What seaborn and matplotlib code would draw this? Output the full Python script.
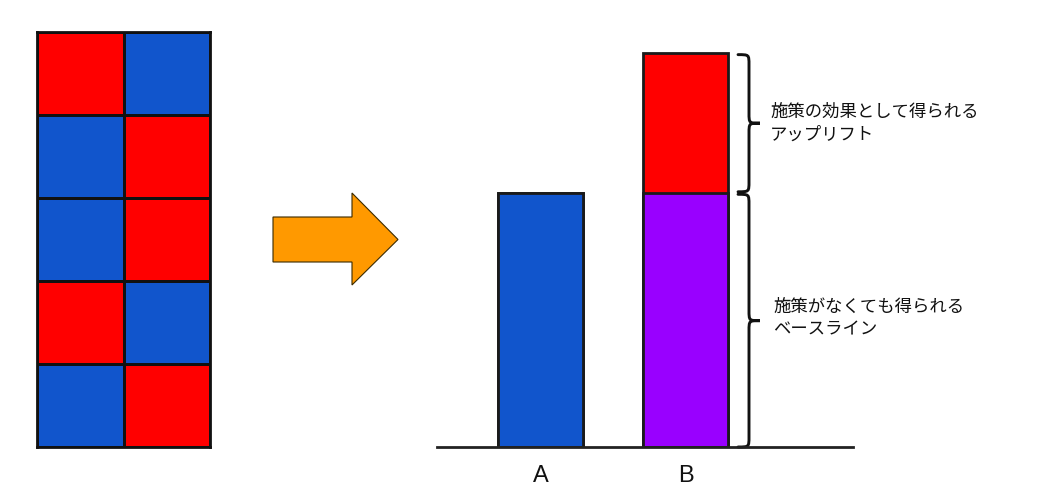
import numpy as np
import pandas as pd
import matplotlib
matplotlib.use("Agg")
import matplotlib.pyplot as plt
import matplotlib.transforms as mtransforms
from matplotlib.colors import ListedColormap
from matplotlib.patches import Polygon, PathPatch
from matplotlib.path import Path
import seaborn as sns

# left grid: 1 = red cell, 0 = blue cell (5 rows x 2 columns)
grid_cells = [[1, 0],
              [0, 1],
              [0, 1],
              [1, 0],
              [0, 1]]

# right bar chart
groups = ["A", "B"]
baseline = [1.0, 1.0]     # what you get without the measure
uplift = [0.0, 0.55]      # extra from the measure (only B)
brace_texts = ["施策の効果として得られる\nアップリフト",
               "施策がなくても得られる\nベースライン"]

BLUE = "#1155cc"
RED = "#ff0000"
PURPLE = "#9900ff"
ORANGE = "#ff9900"

sns.set_theme(style="white")
plt.rcParams["font.family"] = ["Liberation Sans", "Noto Sans CJK JP", "DejaVu Sans"]

W, H = 1037, 500
fig = plt.figure(figsize=(W / 100, H / 100), dpi=100)


def px_box(x0, y0, x1, y1):
    # pixel box (top-left origin) -> figure fraction rect
    return [x0 / W, 1 - y1 / H, (x1 - x0) / W, (y1 - y0) / H]


# --- grid of cells ---
ax_grid = fig.add_axes(px_box(37, 32, 210, 447))
sns.heatmap(np.array(grid_cells), ax=ax_grid, cmap=ListedColormap([BLUE, RED]),
            vmin=0, vmax=1, cbar=False, linewidths=2, linecolor="#111111",
            xticklabels=False, yticklabels=False)
for s in ax_grid.spines.values():
    s.set_visible(True)
    s.set_linewidth(2)
    s.set_color("#111111")

# --- orange arrow ---
arrow_px = [(273, 217), (352, 217), (352, 193), (398, 239.5),
            (352, 285), (352, 262), (273, 262)]
fig.patches.append(Polygon([(x / W, 1 - y / H) for x, y in arrow_px], closed=True,
                           transform=fig.transFigure, facecolor=ORANGE,
                           edgecolor="#3a2a00", linewidth=0.8))

# --- bar chart ---
ax = fig.add_axes(px_box(437, 30, 853, 447))
totals = [b + u for b, u in zip(baseline, uplift)]
df_tot = pd.DataFrame({"group": groups, "value": totals})
df_base = pd.DataFrame({"group": groups, "value": baseline})

sns.barplot(data=df_tot, x="group", y="value", hue="group", order=groups,
            palette=[BLUE, RED], width=0.586, edgecolor="#1a1a1a", saturation=1,
            linewidth=2, legend=False, ax=ax)
sns.barplot(data=df_base, x="group", y="value", hue="group", order=groups,
            palette=[BLUE, PURPLE], width=0.586, edgecolor="#1a1a1a", saturation=1,
            linewidth=2, legend=False, ax=ax)

ax.set_xlim(-0.714, 2.155)
ax.set_ylim(0, 1.642)
ax.set_xlabel("")
ax.set_ylabel("")
ax.set_yticks([])
sns.despine(ax=ax, left=True)
ax.spines["bottom"].set_linewidth(2)
ax.spines["bottom"].set_color("#222222")
ax.tick_params(axis="x", length=0, pad=13, labelsize=17, colors="#111111")


def brace(ax, y0, y1, xe=0.7236, xl=0.75, xt=0.7764, r=0.04):
    ym = (y0 + y1) / 2
    verts = [(xe, y1),
             (xl, y1), (xl, y1), (xl, y1 - r),
             (xl, ym + r),
             (xl, ym), (xl, ym), (xt, ym),
             (xl, ym), (xl, ym), (xl, ym - r),
             (xl, y0 + r),
             (xl, y0), (xl, y0), (xe, y0)]
    codes = ([Path.MOVETO] + [Path.CURVE4] * 3 + [Path.LINETO] + [Path.CURVE4] * 6
             + [Path.LINETO] + [Path.CURVE4] * 3)
    trans = mtransforms.blended_transform_factory(ax.transAxes, ax.transData)
    ax.add_patch(PathPatch(Path(verts, codes), transform=trans, facecolor="none",
                           edgecolor="#111111", linewidth=2.1, clip_on=False,
                           capstyle="round"))
    return ym


trans_txt = mtransforms.blended_transform_factory(ax.transAxes, ax.transData)
b_base, b_top = baseline[1], totals[1]
ym_up = brace(ax, b_base + 0.005, b_top - 0.005)
ym_lo = brace(ax, 0.0, b_base - 0.005)
ax.text(0.8005, ym_up, brace_texts[0], transform=trans_txt, ha="left", va="center",
        fontsize=12.5, family=["Noto Sans CJK JP", "DejaVu Sans"], linespacing=1.3,
        color="#111111", clip_on=False)
ax.text(0.8077, ym_lo + 0.01, brace_texts[1], transform=trans_txt, ha="left", va="center",
        fontsize=12.5, family=["Noto Sans CJK JP", "DejaVu Sans"], linespacing=1.3,
        color="#111111", clip_on=False)

fig.savefig("out.png", dpi=100, facecolor="white")
